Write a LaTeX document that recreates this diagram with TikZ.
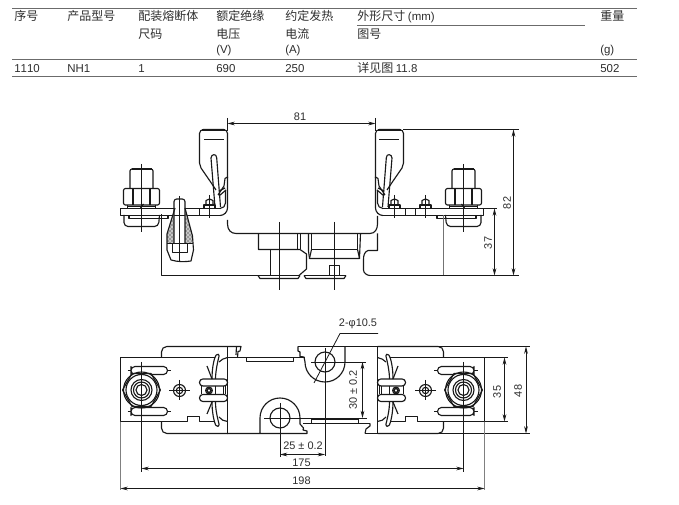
\documentclass[tikz,border=0pt]{standalone}
\usepackage{fontspec}
\setmainfont{Liberation Sans}[Kerning=Off]
\newfontfamily\cjk{Noto Sans CJK SC}
\usetikzlibrary{arrows.meta,patterns}
\definecolor{ink}{gray}{0.1}
\definecolor{txtc}{gray}{0.18}
\definecolor{rulec}{gray}{0.42}
\tikzset{
  hd/.style={anchor=base west,inner sep=0pt,text=txtc,font=\fontsize{9pt}{10pt}\selectfont\cjk},
  lat/.style={anchor=base west,inner sep=0pt,text=txtc,font=\fontsize{8.6pt}{10pt}\selectfont},
  dimtxt/.style={inner sep=0pt,text=txtc,font=\fontsize{8.2pt}{9pt}\selectfont},
  tablerule/.style={rulec,line width=0.75pt},
  part/.style={ink,line width=0.85pt,line join=round},
  thin part/.style={ink,line width=0.6pt},
  dimline/.style={ink,line width=0.6pt},
  dimarrow/.style={ink,line width=0.6pt,{Stealth[length=5.5pt,width=2.8pt]}-{Stealth[length=5.5pt,width=2.8pt]}},
  greyline/.style={black!50,line width=1pt}
}
% half of the elevation: clip, lever, bracket
\newcommand{\ElevClip}{%
  \draw[part,rounded corners=3pt] (199.5,163)--(199.5,129.5)--(227.5,129.5)--(227.5,178);
  \draw[line width=1.3pt,ink] (202,130)--(225,130);
  \draw[part] (199.5,163)--(201,168)--(212,184)--(216,190);
  \draw[part] (227.5,177)--(225,178.5)--(224,186)--(218,195);
  \draw[part] (204,139.5)--(224,139.5);
  \draw[part] (215,207)--(211,158) .. controls (211,154) and (216.7,153) .. (216.7,158)--(220.5,207);
  \draw[part] (219,196)--(226,190);
  \draw[part] (219,191)--(225,188);
  \draw[part] (225.5,190)--(225.5,203) .. controls (225.5,206) and (223,208.5) .. (220,208.5);
  \draw[part] (227.5,177)--(227.5,208) .. controls (227.5,212) and (224,215.5) .. (220,215.5);
}
\newcommand{\ElevBolt}{%
  \draw[thin part] (0,164)--(0,232);
  \draw[part,rounded corners=1.5pt] (-11.5,188.5)--(-11.5,169)--(11.5,169)--(11.5,188.5);
  \draw[line width=1.2pt,ink] (-10,169.2)--(10,169.2);
  \draw[part,rounded corners=1.5pt] (-18,205)--(-18,188.5)--(18,188.5)--(18,205)--cycle;
  \draw[part] (-8.5,188.5)--(-8.5,205) (8.5,188.5)--(8.5,205);
  \draw[part] (-14,205)--(-14,208.5) (14,205)--(14,208.5);
  \draw[part] (-14,206.5)--(14,206.5);
  \draw[part] (-1,208)--(2,204);
  \draw[part,rounded corners=3pt] (-17.5,215)--(-17.5,226.5)--(17,226.5)--(18,215);
  \draw[part] (-12.5,215.5)--(-12.5,218.5)--(26.5,218.5)--(26.5,215.5);
}
\newcommand{\SmallNut}[1]{%
  \draw[thin part] (#1,195)--(#1,218);
  \draw[part] (#1-5.5,208.5)--(#1-5.5,205)--(#1+5.5,205)--(#1+5.5,208.5);
  \draw[part] (#1-3.5,205)--(#1-3.5,200.5)--(#1,199)--(#1+3.5,200.5)--(#1+3.5,205);
}
% half of the plan
\newcommand{\PlanHalf}{%
  \draw[part] (120.5,357.5)--(215,357.5);
  \draw[part] (120.5,357.5)--(120.5,421.5)--(187.5,421.5)--(187.5,416.5)--(199.5,416.5)--(199.5,421.5)--(215,421.5);
  \draw[part,rounded corners=4pt] (161.5,357.5)--(161.5,346.5)--(227.5,346.5);
  \draw[part,rounded corners=4pt] (161.5,421.5)--(161.5,433.5)--(227.5,433.5);
  \draw[part] (227.5,346.5)--(227.5,433.5);
  \draw[part,rounded corners=3pt] (131,370.5)--(131,366.5)--(167.5,366.5)--(167.5,374.5)--(131,374.5)--cycle;
  \draw[part,rounded corners=3pt] (131,411.5)--(131,407.5)--(167.5,407.5)--(167.5,415.5)--(131,415.5)--cycle;
  \draw[thin part] (127.5,370.5)--(131,370.5) (167.5,370.5)--(171,370.5) (127.5,411.5)--(131,411.5) (167.5,411.5)--(171,411.5);
  \draw[part,fill=white] (141.5,390) +(0:19)--+(60:19)--+(120:19)--+(180:19)--+(240:19)--+(300:19)--cycle;
  \draw[part] (141.5,390) circle (18);
  \draw[part] (141.5,390) circle (15.5);
  \draw[part] (141.5,390) circle (10.5);
  \draw[part] (141.5,390) circle (8);
  \draw[part] (141.5,390) circle (5.5);
  \draw[thin part] (141.5,362)--(141.5,406);
  \draw[part] (179.5,390.5) circle (6);
  \draw[part] (179.5,390.5) circle (3.2);
  \draw[thin part] (179.5,380)--(179.5,400.5) (169,390.5)--(190,390.5);
  % clip corners
  \draw[part] (227.5,357.5) .. controls (224,358.5) and (221,359.5) .. (219,362);
  \draw[part] (227.5,421.5) .. controls (224,421) and (221,420) .. (219,417);
  % spring strands
  \draw[part,rounded corners=1pt] (212,379) .. controls (212,368) and (214,358) .. (217,354)
    --(219.5,354.5) .. controls (217.5,362) and (215.5,372) .. (215.5,379);
  \draw[part,rounded corners=1pt] (212,402) .. controls (212,412) and (214,422) .. (216.5,426.5)
    --(219.5,426) .. controls (217.5,418) and (215.5,410) .. (215.5,402);
  \draw[part] (212,379)--(207,366) (212,402)--(207,414);
  \draw[part,rounded corners=2.5pt] (199.5,386)--(199.5,379)--(227.5,379)--(227.5,386)--cycle;
  \draw[part,rounded corners=2.5pt] (199.5,401.5)--(199.5,394.5)--(227.5,394.5)--(227.5,401.5)--cycle;
  \draw[part] (201.5,386)--(201.5,394.5) (225.5,386)--(225.5,394.5) (215.5,386)--(215.5,394.5) (223.5,386)--(223.5,394.5);
  \draw[part] (209,390.5) circle (3.4);
  \draw[line width=1.2pt,ink] (209,390.5) circle (2);
}
\begin{document}
\begin{tikzpicture}[x=0.75pt,y=-0.75pt]
\useasboundingbox (0,0) rectangle (679,505);
\fill[white] (0,0) rectangle (679,505);
% table
\coordinate (rA) at (12,8.5); \coordinate (rB) at (637,8.5);
\coordinate (rC) at (12,59.5); \coordinate (rD) at (637,59.5);
\coordinate (rE) at (12,76.5); \coordinate (rF) at (637,76.5);
\coordinate (rG) at (357,25.5); \coordinate (rH) at (585,25.5);
\draw[tablerule] (rA)--(rB);
\draw[tablerule] (rC)--(rD);
\draw[tablerule] (rE)--(rF);
\draw[tablerule] (rG)--(rH);
\node[hd] (h1) at (14,21) {序号};
\node[hd] (h2) at (67,21) {产品型号};
\node[hd] (h3) at (138,21) {配装熔断体};
\node[hd] (h3b) at (138,39) {尺码};
\node[hd] (h4) at (216,21) {额定绝缘};
\node[hd] (h4b) at (216,39) {电压};
\node[lat] (h4c) at (216,54) {(V)};
\node[hd] (h5) at (285,21) {约定发热};
\node[hd] (h5b) at (285,39) {电流};
\node[lat] (h5c) at (285,54) {(A)};
\node[hd] (h6) at (357,21) {外形尺寸 {\fontspec{Liberation Sans}\fontsize{8.6pt}{10pt}\selectfont(mm)}};
\node[hd] (h6b) at (357,39) {图号};
\node[hd] (h7) at (600,21) {重量};
\node[lat] (h7c) at (600,54) {(g)};
\node[lat] (d1) at (14,72.5) {1110};
\node[lat] (d2) at (67,72.5) {NH1};
\node[lat] (d3) at (138,72.5) {1};
\node[lat] (d4) at (216,72.5) {690};
\node[lat] (d5) at (285,72.5) {250};
\node[hd] (d6) at (357,72.5) {详见图 {\fontspec{Liberation Sans}\fontsize{8.6pt}{10pt}\selectfont 11.8}};
\node[lat] (d7) at (600,72.5) {502};

% ===== elevation =====
\ElevClip
\begin{scope}[shift={(603,0)},xscale=-1] \ElevClip \end{scope}
\begin{scope}[shift={(141.5,0)}] \ElevBolt \end{scope}
\begin{scope}[shift={(463.5,0)},xscale=-1] \ElevBolt \end{scope}
% plates
\draw[part] (120.5,208.5)--(120.5,215.5)--(220,215.5);
\draw[part] (120.5,208.5)--(174,208.5) (185,208.5)--(220,208.5);
\draw[part] (199.5,208.5)--(199.5,215.5);
\draw[part] (483.5,208.5)--(483.5,215.5)--(383,215.5);
\draw[part] (383,208.5)--(497,208.5);
\draw[part] (405.5,208.5)--(405.5,215.5) (415.5,208.5)--(415.5,215.5);
\SmallNut{209.5}
\SmallNut{394.5}
\SmallNut{425.5}
% fuse contact
\fill[black!22] (174,213)--(175,208)--(167,234)--(167,243)--(174,243)--cycle;
\fill[black!22] (185,213)--(185,208)--(192.5,236)--(192.5,243)--(185,243)--cycle;
\path[pattern=crosshatch dots,pattern color=black]
  (174,213)--(175,208)--(167,234)--(167,243)--(174,243)--cycle;
\path[pattern=crosshatch dots,pattern color=black]
  (185,213)--(185,208)--(192.5,236)--(192.5,243)--(185,243)--cycle;
\draw[thin part] (179.5,196)--(179.5,262);
\draw[part,rounded corners=2pt] (174,243)--(174,199)--(185,199)--(185,243);
\draw[part] (175,208)--(167,234)--(167,250)--(171,260)
   .. controls (178,262) and (185,262) .. (191,261)--(193.5,250)--(192.5,236)--(185,208);
\draw[part] (167,243.5)--(192.5,243.5);
\draw[part] (172.5,243.5)--(172.5,252.5)--(187.5,252.5)--(187.5,243.5);
% body
\draw[part] (227.5,220)--(227.5,224) .. controls (227.5,230) and (231,233.5) .. (236,233.5)
  --(370,233.5) .. controls (375,233.5) and (377.5,229) .. (377.5,224)--(377.5,216);
\draw[part] (377.5,233.5)--(377.5,250.5)--(368,250.5) .. controls (364,252) and (363.5,256) .. (363.5,260)
  --(363.5,270) .. controls (363.5,273) and (367,275.5) .. (370,275.5);
\draw[part] (258.5,233.5)--(258.5,249.5)--(300,249.5)--(306.5,254)--(306.5,269)--(299,275.5);
\draw[part] (297.5,233.5)--(297.5,249.5) (300.5,233.5)--(300.5,249.5);
\draw[part] (270.5,249.5)--(270.5,275.5);
\draw[part] (308.5,233.5)--(308.5,251)--(309.5,258.5)--(359.5,258.5)--(360.5,233.5);
\draw[part] (311.5,233.5)--(311.5,249.5)--(357.5,249.5)--(357.5,233.5);
\draw[part] (311.5,249.5)--(309.5,258.5) (357.5,249.5)--(359.5,258.5);
\draw[part] (329.5,275.5)--(329.5,265.5)--(339.5,265.5)--(339.5,275.5);
\draw[part] (161.5,214.5)--(161.5,275.5)--(300,275.5);
\draw[part] (258,275.5)--(260,278.5)--(298,278.5)--(300,275.5);
\draw[part] (304,275.5)--(346,275.5);
\draw[part] (304,275.5)--(306,278.5)--(344,278.5)--(346,275.5);
\draw[part] (370,275.5)--(519,275.5);
\draw[black!55,line width=1pt] (443.5,215.5)--(443.5,275.5);
\draw[thin part] (279.5,222)--(279.5,290) (334.5,222)--(334.5,290);
% elevation dimensions
\draw[part] (403,129.5)--(519,129.5);
\draw[dimline] (227.5,118)--(227.5,131) (375.5,118)--(375.5,131);
\draw[dimarrow] (227.5,123.5)--(375.5,123.5);
\node[dimtxt] (dim81) at (300,117) {81};
\draw[dimarrow] (513.5,129.5)--(513.5,275.5);
\node[dimtxt,rotate=90] (dim82) at (507,203) {82};
\draw[dimarrow] (494.5,208.5)--(494.5,275.5);
\node[dimtxt,rotate=90] (dim37) at (488,243) {37};

% ===== plan =====
\PlanHalf
\begin{scope}[shift={(605,0)},xscale=-1] \PlanHalf \end{scope}
\draw[part] (227.5,346.5)--(241,346.5)--(240,351)--(238,351.5)--(237.5,357.5);
\draw[part] (236.5,346.5)--(236,355);
\draw[part] (227.5,357.5)--(305,357.5);
\draw[part] (246.5,357.5)--(246.5,361.5)--(293.5,361.5)--(293.5,357.5);
\draw[part] (298,346.5)--(530,346.5);
\draw[part] (345,346.5)--(345,362) arc[start angle=0,end angle=180,radius=20];
\draw[part] (305,362)--(304,357)--(300,356.5)--(300,352)--(298,351)--(298,346.5);
\draw[part] (325,362) circle (10);
\draw[part] (260,433.5)--(260,418) arc[start angle=180,end angle=360,radius=20]
  --(300,424)--(303.5,428)--(303,430)--(307,431)--(307,433.5)--(227,433.5);
\draw[part] (280,418) circle (10);
\draw[line width=1.2pt,ink] (311.5,419)--(358.5,419);
\draw[part] (303,423.5)--(370,423.5);
\draw[part] (311.5,419)--(311.5,423.5) (358.5,419)--(358.5,423.5);
\draw[part] (370,423.5)--(370,426)--(366,429)--(365,433.5);
\draw[part] (365,433.5)--(530,433.5);
\draw[greyline] (120.5,422)--(120.5,490);
\draw[greyline] (484.5,422)--(484.5,490);
\draw[thin part] (141.5,406)--(141.5,472) (463.5,406)--(463.5,472);
\draw[thin part] (264,418)--(298,418) (280,403)--(280,457);
\draw[thin part] (325,348)--(325,456);
\draw[thin part] (311,362)--(366,362) (298,418)--(367,418);
\draw[thin part] (484.5,357.5)--(508,357.5) (484.5,421.5)--(508,421.5);
% plan dimensions
\node[dimtxt] (phi) at (358,324) {2-φ10.5};
\coordinate (phiA) at (378,333.5);
\coordinate (phiB) at (340,333.5);
\coordinate (phiC) at (314,383);
\draw[dimline] (phiA)--(phiB)--(phiC);
\draw[dimarrow] (362.5,362)--(362.5,418);
\node[dimtxt,rotate=90] (dim30) at (353,390) {30 ± 0.2};
\draw[dimarrow] (504.5,357.5)--(504.5,421.5);
\node[dimtxt,rotate=90] (dim35) at (497,392) {35};
\draw[dimarrow] (526,346.5)--(526,433.5);
\node[dimtxt,rotate=90] (dim48) at (518,391) {48};
\draw[dimarrow] (280,454.5)--(325,454.5);
\node[dimtxt] (dim25) at (303,445.5) {25 ± 0.2};
\draw[dimarrow] (141.5,468.5)--(463.5,468.5);
\node[dimtxt] (dim175) at (301.5,463) {175};
\draw[dimarrow] (120.5,488.5)--(484.5,488.5);
\node[dimtxt] (dim198) at (301.5,481) {198};
\end{tikzpicture}
\end{document}
